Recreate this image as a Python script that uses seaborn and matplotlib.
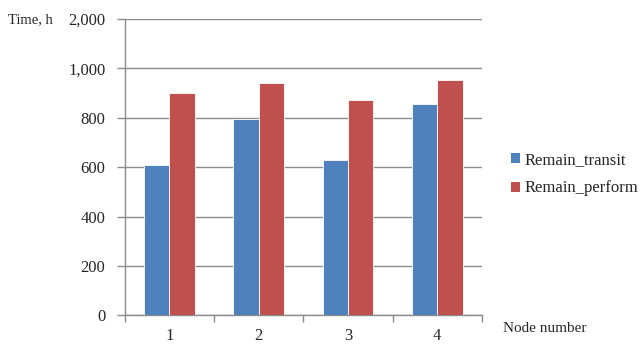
import matplotlib
matplotlib.use("Agg")
import matplotlib.pyplot as plt
import seaborn as sns
import pandas as pd
from matplotlib.patches import Patch

nodes = ["1", "2", "3", "4"]
remain_transit = [610, 795, 630, 858]
remain_perform = [900, 943, 872, 955]
series_names = ["Remain_transit", "Remain_perform"]
colors = ["#4F81BD", "#C0504D"]
ytick_labels = ["0", "200", "400", "600", "800", "1,000", "2,000"]

df = pd.DataFrame({
    "node": nodes * 2,
    "value": remain_transit + remain_perform,
    "series": [series_names[0]] * 4 + [series_names[1]] * 4,
})

sns.set_style("white")
plt.rcParams["font.family"] = ["Liberation Serif", "DejaVu Serif"]

fig = plt.figure(figsize=(6.4, 3.52), dpi=100)
ax = fig.add_axes([0.195, 0.1037, 0.558, 0.8423])

sns.barplot(data=df, x="node", y="value", hue="series", palette=colors,
            saturation=1, width=0.567, ax=ax, edgecolor="white", linewidth=0.6,
            legend=False, zorder=3)

ax.set_ylim(0, 1200)
ax.set_xlim(-0.5, 3.5)
ax.set_yticks([0, 200, 400, 600, 800, 1000, 1200])
ax.set_yticklabels(ytick_labels, fontsize=12)
ax.yaxis.grid(True, color="#8c8c8c", linewidth=1.0, zorder=0)
ax.set_axisbelow(True)

ax.tick_params(axis="y", which="major", length=6, width=1, color="#8c8c8c",
               direction="out", pad=8, left=True)
ax.tick_params(axis="x", which="major", length=0, pad=9, labelsize=12)
ax.set_xticks([-0.5, 0.5, 1.5, 2.5, 3.5], minor=True)
ax.tick_params(axis="x", which="minor", length=5, width=1, color="#8c8c8c",
               direction="out", bottom=True)

for s in ["top", "right"]:
    ax.spines[s].set_visible(False)
for s in ["left", "bottom"]:
    ax.spines[s].set_color("#8c8c8c")
    ax.spines[s].set_linewidth(1.0)

ax.set_xlabel("")
ax.set_ylabel("")

fig.text(0.013, 0.944, "Time, h", fontsize=10.5, va="center", ha="left")
fig.text(0.786, 0.068, "Node number", fontsize=11, va="center", ha="left")

handles = [Patch(facecolor=c, edgecolor="none") for c in colors]
fig.legend(handles, series_names, loc="center left",
           bbox_to_anchor=(0.775, 0.505), frameon=False, fontsize=12,
           handlelength=0.55, handleheight=0.55, handletextpad=0.25,
           labelspacing=0.75)

fig.savefig("out.png", dpi=100)
